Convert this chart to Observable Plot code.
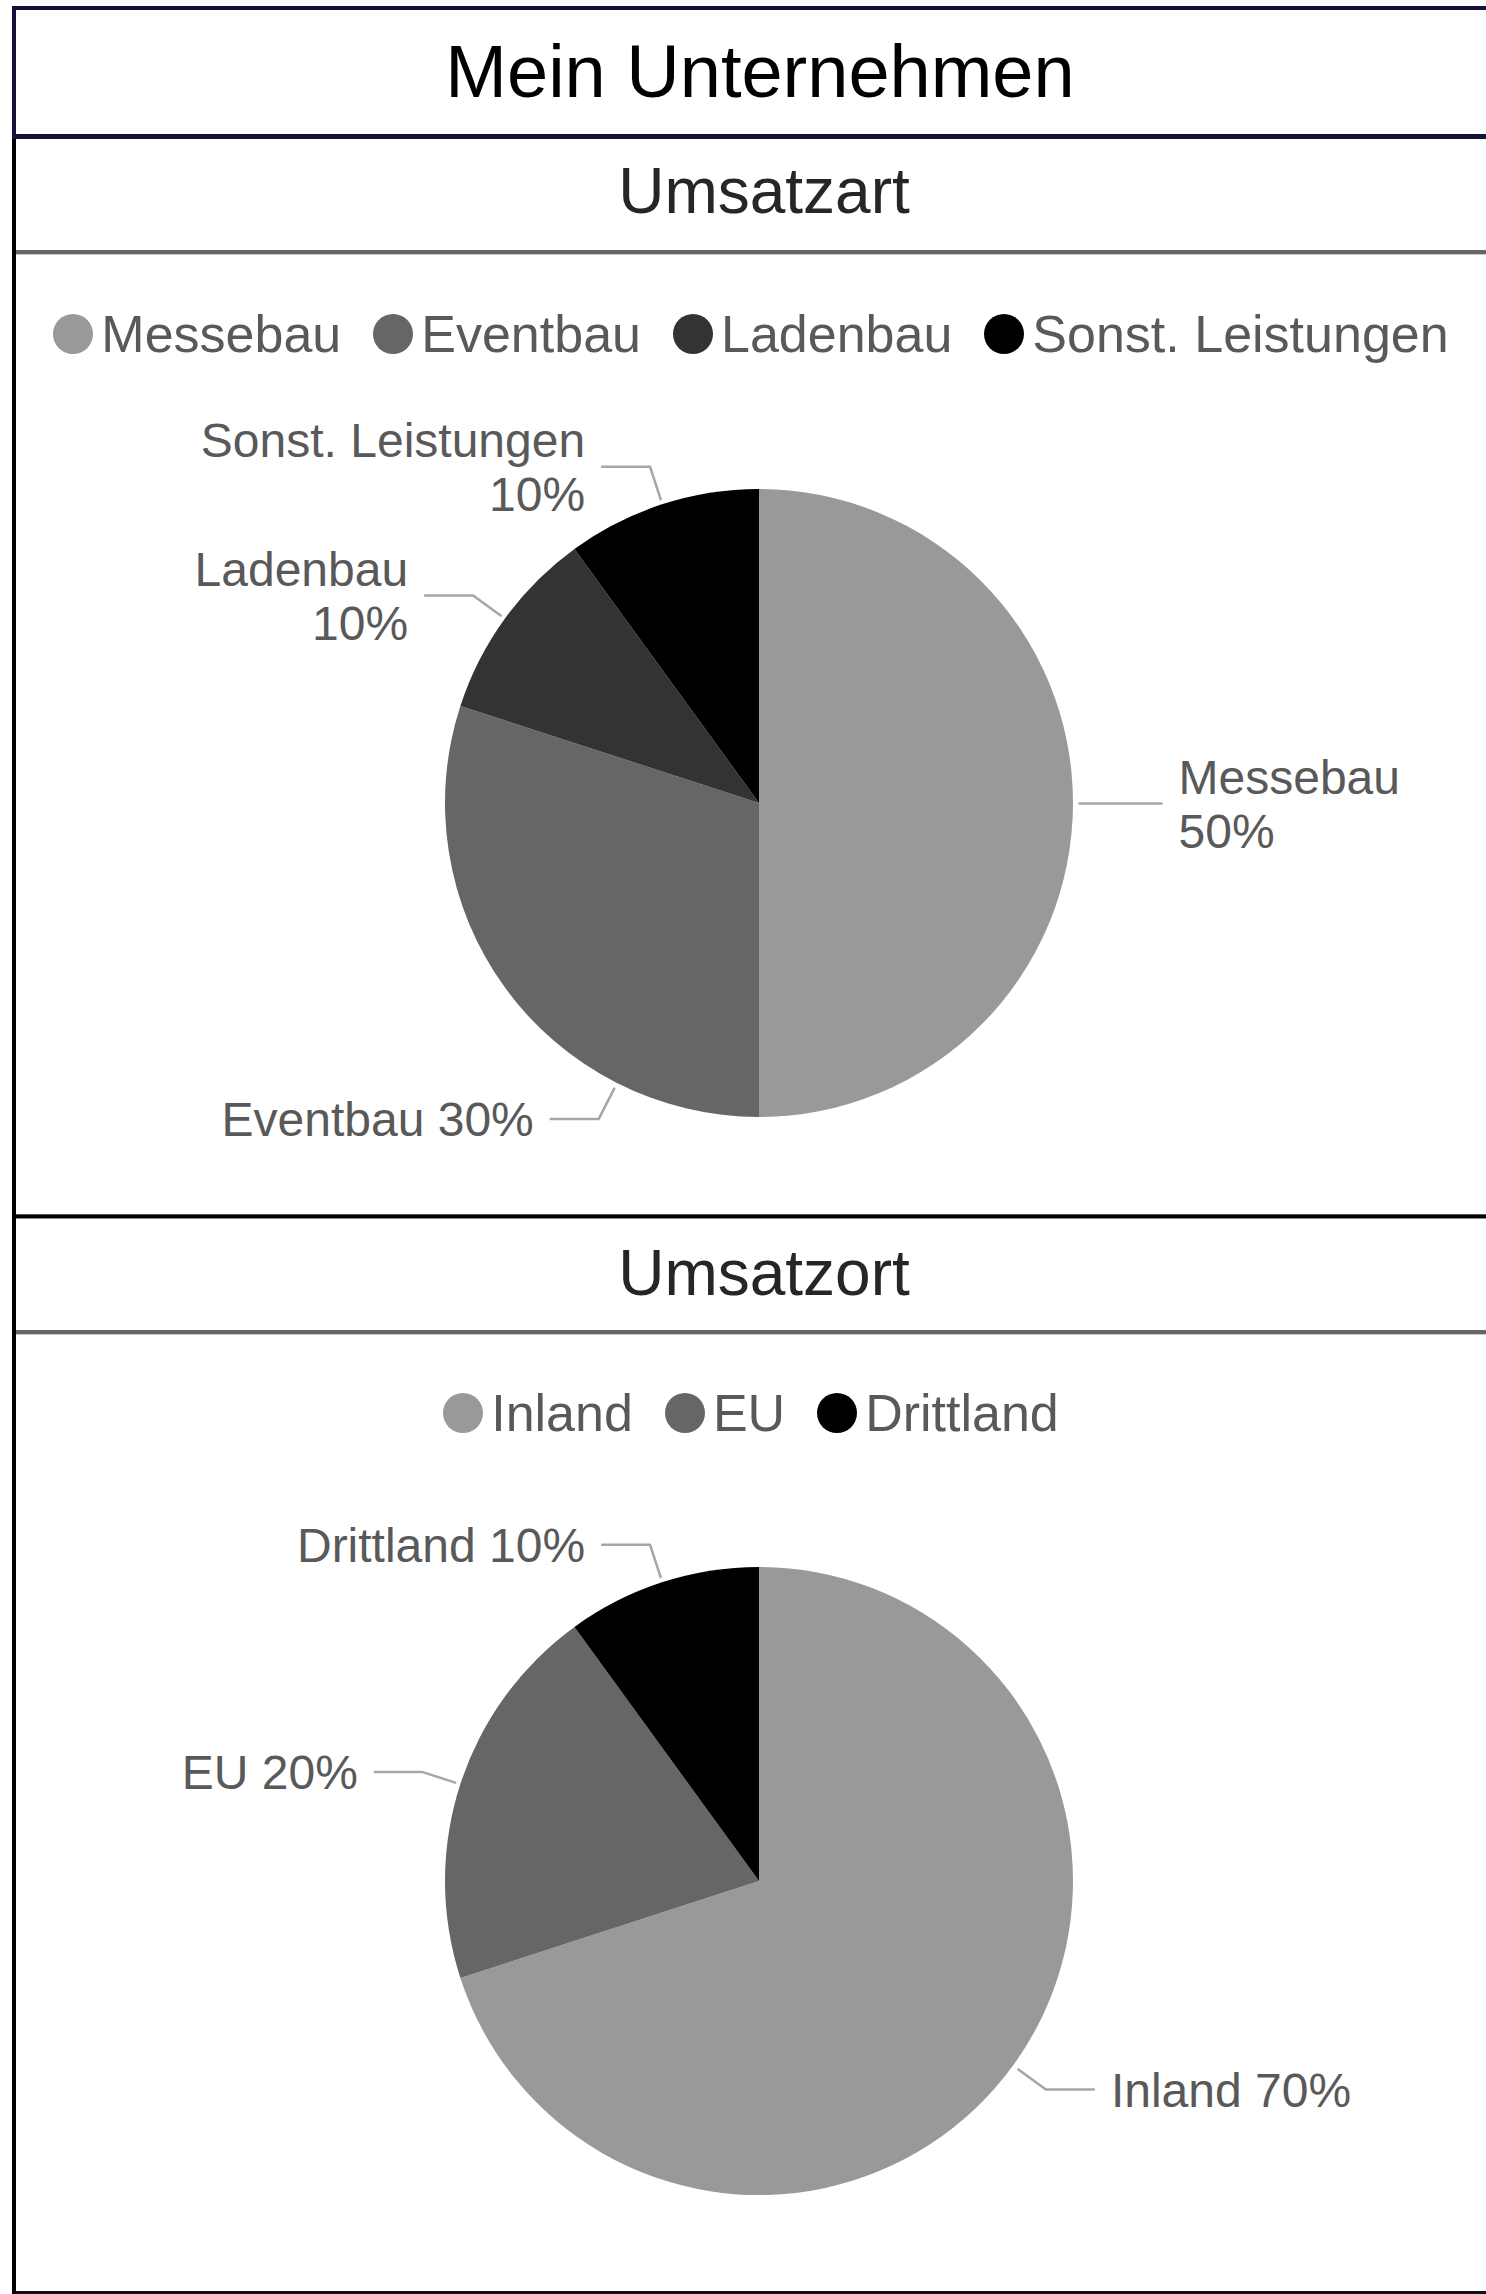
<!DOCTYPE html>
<html>
<head>
<meta charset="utf-8">
<script src="https://cdn.jsdelivr.net/npm/d3@7"></script>
<script src="https://cdn.jsdelivr.net/npm/@observablehq/plot@0.6"></script>
<style>
  html, body { margin: 0; padding: 0; background: #fff; }
  #page { position: relative; width: 1486px; height: 2294px; overflow: hidden;
          font-family: "Liberation Sans", Arial, Helvetica, sans-serif; }
  .rule { position: absolute; left: 12px; right: 0; z-index: 3; }
  .vrule { position: absolute; left: 12px; width: 4px; z-index: 4; }
  .heading { position: absolute; width: 1000px; text-align: center; white-space: nowrap; line-height: 1; }
  .legend { position: absolute; left: 16px; right: 0; display: flex; justify-content: center;
            align-items: center; gap: 32px; font-size: 52px; line-height: 1; color: #595959; z-index: 2; }
  .item { display: flex; align-items: center; gap: 8px; white-space: nowrap; }
  .sw { width: 40px; height: 40px; border-radius: 50%; flex: none; }
  .plotbox { position: absolute; left: 0; z-index: 1; }
</style>
</head>
<body>
<div id="page">
  <div class="heading" style="left:260px; top:35px; font-size:74px; color:#000;">Mein Unternehmen</div>
  <div class="heading" style="left:264px; top:159px; font-size:64px; color:#262626;">Umsatzart</div>
  <div class="heading" style="left:264px; top:1241px; font-size:64px; color:#262626;">Umsatzort</div>

  <div id="plot1" class="plotbox" style="top:255px;"></div>
  <div id="legend1" class="legend" style="top:308px;"></div>
  <div id="plot2" class="plotbox" style="top:1335px;"></div>
  <div id="legend2" class="legend" style="top:1387px;"></div>

  <!-- frame rules -->
  <div class="rule" style="top:6px; height:4px; background:#14113a;"></div>
  <div class="vrule" style="top:6px; bottom:0; background:#000;"></div>
  <div class="vrule" style="top:6px; height:133px; background:#14113a;"></div>
  <div class="rule" style="top:134px; height:5px; background:#14113a;"></div>
  <div class="rule" style="top:250px; height:4px; background:#666;"></div>
  <div class="rule" style="top:254px; height:1px; background:#c8c8c8;"></div>
  <div class="rule" style="top:1214px; height:1px; background:#555;"></div>
  <div class="rule" style="top:1215px; height:3px; background:#000;"></div>
  <div class="rule" style="top:1218px; height:1px; background:#888;"></div>
  <div class="rule" style="top:1330px; height:4px; background:#666;"></div>
  <div class="rule" style="top:1334px; height:1px; background:#c8c8c8;"></div>
  <div class="rule" style="top:2291px; height:3px; background:#111;"></div>
</div>

<script>
// ---------- data ----------
const umsatzartCategories = ["Messebau", "Eventbau", "Ladenbau", "Sonst. Leistungen"];
const umsatzartValues = [50, 30, 10, 10];
const umsatzartColors = ["#999999", "#666666", "#333333", "#000000"];

const umsatzortCategories = ["Inland", "EU", "Drittland"];
const umsatzortValues = [70, 20, 10];
const umsatzortColors = ["#999999", "#666666", "#000000"];

// ---------- chart builder ----------
const FONT = '"Liberation Sans", Arial, Helvetica, sans-serif';

function makePie({categories, values, colors, width, height, cx, cy, R, wrap, angleOverride}) {
  const data = categories.map((name, i) => ({name, value: values[i]}));
  const arcs = d3.pie().sort(null).value(d => d.value)(data);
  const px = 1 / R; // one pixel expressed in data units
  const L = {gap: 6, radial: 34, horizontal: 48, pad: 17};

  const leaders = [], labels = [];
  arcs.forEach(a => {
    const name = a.data.name;
    const midDeg = angleOverride[name] ?? ((a.startAngle + a.endAngle) / 2) * 180 / Math.PI;
    const t = midDeg * Math.PI / 180, s = Math.sin(t), c = Math.cos(t);
    const side = s >= 0 ? 1 : -1;
    const r0 = 1 + L.gap * px, r1 = r0 + L.radial * px;
    const p0 = [r0 * s, r0 * c], p1 = [r1 * s, r1 * c];
    const p2 = [p1[0] + side * L.horizontal * px, p1[1]];
    leaders.push({name, x: p0[0], y: p0[1]}, {name, x: p1[0], y: p1[1]}, {name, x: p2[0], y: p2[1]});
    labels.push({
      name, side,
      x: p2[0] + side * L.pad * px,
      y: p2[1],
      text: wrap.includes(name) ? `${name}\n${a.data.value}%` : `${name} ${a.data.value}%`
    });
  });

  const fallbackColor = d3.scaleOrdinal(categories, colors);
  const pieMark = (index, scales) => {
    const x0 = scales.x(0), y0 = scales.y(0), rr = scales.x(1) - x0;
    const color = scales.color ?? fallbackColor;
    const arc = d3.arc().innerRadius(0).outerRadius(rr);
    const g = d3.create("svg:g").attr("transform", `translate(${x0},${y0})`);
    g.selectAll("path").data(arcs).join("path")
      .attr("d", arc)
      .attr("fill", d => color(d.data.name));
    return g.node();
  };

  const textOpts = {
    x: "x", y: "y", text: "text",
    fontSize: 48, fill: "#595959", fontFamily: FONT,
    lineHeight: 1.12, lineAnchor: "middle"
  };

  return Plot.plot({
    width, height,
    margin: 0,
    style: {background: "none", maxWidth: "none", overflow: "visible", fontFamily: FONT},
    x: {domain: [-1, 1], range: [cx - R, cx + R], axis: null},
    y: {domain: [-1, 1], range: [cy + R, cy - R], axis: null},
    color: {domain: categories, range: colors},
    marks: [
      Plot.dot(data, {x: () => 0, y: () => 0, r: 1, fill: "name", fillOpacity: 0}),
      pieMark,
      Plot.line(leaders, {x: "x", y: "y", z: "name", stroke: "#a6a6a6", strokeWidth: 2.5, curve: "linear"}),
      Plot.text(labels.filter(d => d.side < 0), {...textOpts, textAnchor: "end"}),
      Plot.text(labels.filter(d => d.side > 0), {...textOpts, textAnchor: "start"})
    ]
  });
}

function makeLegend(el, chart) {
  const sc = chart.scale("color");
  sc.domain.forEach((name, i) => {
    const item = document.createElement("div");
    item.className = "item";
    const sw = document.createElement("div");
    sw.className = "sw";
    sw.style.background = sc.range[i];
    const tx = document.createElement("span");
    tx.textContent = name;
    item.append(sw, tx);
    el.append(item);
  });
}

const chart1 = makePie({
  categories: umsatzartCategories, values: umsatzartValues, colors: umsatzartColors,
  width: 1486, height: 959, cx: 759, cy: 548, R: 314,
  wrap: ["Messebau", "Ladenbau", "Sonst. Leistungen"],
  angleOverride: {"Eventbau": 207}
});
document.getElementById("plot1").append(chart1);
makeLegend(document.getElementById("legend1"), chart1);

const chart2 = makePie({
  categories: umsatzortCategories, values: umsatzortValues, colors: umsatzortColors,
  width: 1486, height: 956, cx: 759, cy: 546, R: 314,
  wrap: [],
  angleOverride: {}
});
document.getElementById("plot2").append(chart2);
makeLegend(document.getElementById("legend2"), chart2);
</script>
</body>
</html>
